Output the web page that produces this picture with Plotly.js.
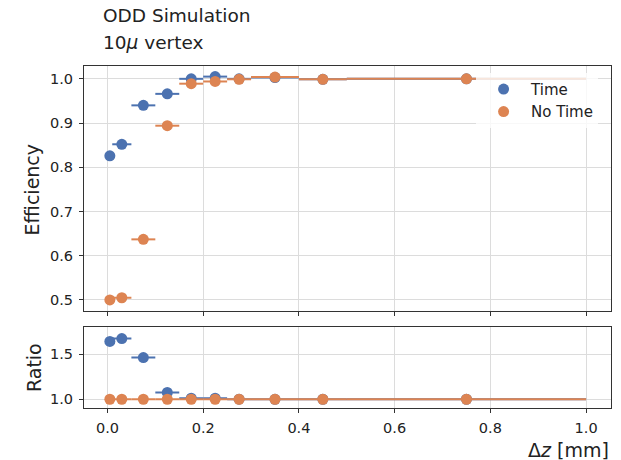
<!DOCTYPE html>
<html>
<head>
<meta charset="utf-8">
<script src="https://cdn.plot.ly/plotly-3.0.1.min.js"></script>
<style>html,body{margin:0;padding:0;background:#fff;}#chart{width:621px;height:460px;}</style>
</head>
<body>
<div id="chart"></div>
<script>
// Bin centers and half-widths of Δz bins [mm]
var binCenters = [0.005, 0.03, 0.075, 0.125, 0.175, 0.225, 0.275, 0.35, 0.45, 0.75];
var binHalfWidths = [0.005, 0.02, 0.025, 0.025, 0.025, 0.025, 0.025, 0.05, 0.05, 0.25];

// Efficiency
var effTime   = [0.826, 0.852, 0.940, 0.966, 1.000, 1.005, 1.000, 1.003, 0.999, 1.000];
var effNoTime = [0.500, 0.505, 0.637, 0.894, 0.989, 0.994, 0.999, 1.004, 0.999, 1.000];

// Ratio (relative to No Time)
var ratioTime   = [1.640, 1.672, 1.462, 1.075, 1.011, 1.011, 1.001, 0.999, 1.000, 1.000];
var ratioNoTime = [1.0, 1.0, 1.0, 1.0, 1.0, 1.0, 1.0, 1.0, 1.0, 1.0];

var seriesNames = ["Time", "No Time"];
var colors = ["#4C72B0", "#DD8452"];

var xTicks = [0.0, 0.2, 0.4, 0.6, 0.8, 1.0];
var xTickText = ["0.0", "0.2", "0.4", "0.6", "0.8", "1.0"];
var effTicks = [0.5, 0.6, 0.7, 0.8, 0.9, 1.0];
var effTickText = ["0.5", "0.6", "0.7", "0.8", "0.9", "1.0"];
var ratioTicks = [1.0, 1.5];
var ratioTickText = ["1.0", "1.5"];

function mk(y, i, xa, ya, showLegend) {
  return {
    x: binCenters, y: y, type: 'scatter', mode: 'markers',
    name: seriesNames[i], legendgroup: 'g' + i, showlegend: showLegend,
    xaxis: xa, yaxis: ya,
    marker: {color: colors[i], size: 11},
    error_x: {type: 'data', array: binHalfWidths, visible: true, color: colors[i], thickness: 2, width: 0},
    hoverinfo: 'x+y'
  };
}

var data = [
  mk(effTime, 0, 'x', 'y', true),
  mk(effNoTime, 1, 'x', 'y', true),
  mk(ratioTime, 0, 'x2', 'y2', false),
  mk(ratioNoTime, 1, 'x2', 'y2', false)
];

var axCommon = {
  showline: true, mirror: true, linecolor: '#333', linewidth: 1,
  ticks: 'outside', ticklen: 4, tickcolor: '#333', tickwidth: 1,
  showgrid: true, gridcolor: '#dcdcdc', gridwidth: 1, zeroline: false,
  ticklabelstandoff: 3,
  tickfont: {family: 'DejaVu Sans', size: 14.5, color: '#222'}
};

function ax(extra) { return Object.assign({}, axCommon, extra); }

var layout = {
  width: 621, height: 460,
  paper_bgcolor: '#fff', plot_bgcolor: '#fff',
  margin: {l: 84, r: 10, t: 66, b: 52},
  showlegend: true,
  legend: {
    x: 0.744, y: 0.98, xanchor: 'left', yanchor: 'top',
    bgcolor: 'rgba(255,255,255,0.8)', borderwidth: 0,
    font: {family: 'DejaVu Sans', size: 15, color: '#222'},
    tracegroupgap: 0, itemwidth: 45
  },
  xaxis: ax({domain: [0, 1], range: [-0.049, 1.052], anchor: 'y', matches: 'x2',
             tickvals: xTicks, ticktext: xTickText, showticklabels: false}),
  yaxis: ax({domain: [0.2836, 1], range: [0.475, 1.029], anchor: 'x',
             tickvals: effTicks, ticktext: effTickText}),
  xaxis2: ax({domain: [0, 1], range: [-0.049, 1.052], anchor: 'y2',
              tickvals: xTicks, ticktext: xTickText}),
  yaxis2: ax({domain: [0, 0.236], range: [0.903, 1.797], anchor: 'x2',
              tickvals: ratioTicks, ticktext: ratioTickText}),
  annotations: [
    {text: 'ODD Simulation', xref: 'paper', yref: 'paper', x: 0.032, y: 1.149,
     xanchor: 'left', yanchor: 'middle', showarrow: false,
     font: {family: 'DejaVu Sans', size: 18.5, color: '#222'}},
    {text: '10<i>μ</i> vertex', xref: 'paper', yref: 'paper', x: 0.032, y: 1.070,
     xanchor: 'left', yanchor: 'middle', showarrow: false,
     font: {family: 'DejaVu Sans', size: 18.5, color: '#222'}},
    {text: 'Efficiency', xref: 'paper', yref: 'paper', x: -0.098, y: 0.64,
     xanchor: 'center', yanchor: 'middle', textangle: -90, showarrow: false,
     font: {family: 'DejaVu Sans', size: 19, color: '#222'}},
    {text: 'Ratio', xref: 'paper', yref: 'paper', x: -0.096, y: 0.118,
     xanchor: 'center', yanchor: 'middle', textangle: -90, showarrow: false,
     font: {family: 'DejaVu Sans', size: 19, color: '#222'}},
    {text: 'Δ<i>z</i> [mm]', xref: 'paper', yref: 'paper', x: 1.0, y: -0.123,
     xanchor: 'right', yanchor: 'middle', showarrow: false,
     font: {family: 'DejaVu Sans', size: 19, color: '#222'}}
  ]
};

Plotly.newPlot('chart', data, layout, {displayModeBar: false, staticPlot: true});
</script>
</body>
</html>
